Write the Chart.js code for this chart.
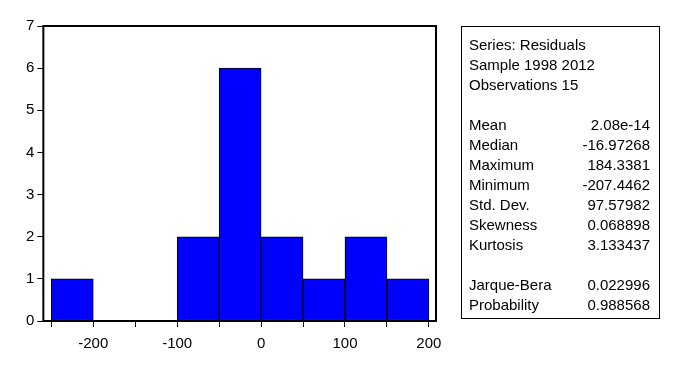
<!DOCTYPE html>
<html>
<head>
<meta charset="utf-8">
<script src="https://cdn.jsdelivr.net/npm/chart.js@4/dist/chart.umd.min.js"></script>
<style>
  body { margin: 0; background: #fff; font-family: "Liberation Sans", Arial, sans-serif; }
  #wrap { position: relative; width: 677px; height: 376px; }
  #hist { position: absolute; left: 0; top: 0; }
  #stats {
    position: absolute; left: 461px; top: 26px; width: 199px; height: 293px;
    border: 1px solid #000; padding: 8px 9px 0 7px; box-sizing: border-box;
    font-size: 15px; color: #000;
  }
  .row { height: 20px; line-height: 20px; display: flex; justify-content: space-between; white-space: nowrap; }
</style>
</head>
<body>
<div id="wrap">
  <canvas id="hist" width="677" height="376"></canvas>
  <div id="stats"></div>
</div>
<script>
// Histograma dos residuos: classes de largura 50
const binCenters = [-225, -175, -125, -75, -25, 25, 75, 125, 175];
const binCounts  = [1, 0, 0, 2, 6, 2, 1, 2, 1];
const xTickValues = [-250, -200, -150, -100, -50, 0, 50, 100, 150, 200];

// Quadro de estatisticas (linha vazia = '')
const headerLines = ['Series: Residuals', 'Sample 1998 2012', 'Observations 15'];
const statLabels  = ['Mean', 'Median', 'Maximum', 'Minimum', 'Std. Dev.', 'Skewness', 'Kurtosis', '', 'Jarque-Bera', 'Probability'];
const statValues  = ['2.08e-14', '-16.97268', '184.3381', '-207.4462', '97.57982', '0.068898', '3.133437', '', '0.022996', '0.988568'];

const FONT = { family: '"Liberation Sans", Arial, sans-serif', size: 15 };

// moldura preta em volta da area do grafico
const frame = {
  id: 'frame',
  afterDraw(chart) {
    const { ctx, chartArea: a } = chart;
    ctx.save();
    ctx.strokeStyle = '#000';
    ctx.lineWidth = 2;
    ctx.strokeRect(a.left, a.top, a.right - a.left, a.bottom - a.top);
    ctx.restore();
  }
};

new Chart(document.getElementById('hist'), {
  type: 'bar',
  data: {
    datasets: [{
      data: binCenters.map((x, i) => ({ x, y: binCounts[i] })),
      backgroundColor: '#0000ff',
      borderColor: '#000',
      borderWidth: 1,
      borderSkipped: false,
      barPercentage: 1,
      categoryPercentage: 1
    }]
  },
  options: {
    responsive: false,
    animation: false,
    layout: { padding: { left: 23, top: 26, right: 241, bottom: 15 } },
    plugins: { legend: { display: false }, tooltip: { enabled: false } },
    scales: {
      x: {
        type: 'linear', min: -259.5, max: 208.5, offset: false,
        afterBuildTicks: s => { s.ticks = xTickValues.map(v => ({ value: v })); },
        ticks: {
          color: '#000', font: FONT, padding: 8, maxRotation: 0, autoSkip: false,
          callback: v => (v % 100 === 0 ? String(v) : '')
        },
        grid: { display: true, offset: false, drawOnChartArea: false, drawTicks: true, tickLength: 6, color: '#000', lineWidth: 1 },
        border: { display: false }
      },
      y: {
        min: 0, max: 7,
        ticks: { stepSize: 1, color: '#000', font: FONT, padding: 3 },
        grid: { display: true, drawOnChartArea: false, drawTicks: true, tickLength: 6, color: '#000', lineWidth: 1 },
        border: { display: false }
      }
    }
  },
  plugins: [frame]
});

// monta o quadro de estatisticas
const box = document.getElementById('stats');
const rows = headerLines.map(t => [t, '']).concat([['', '']], statLabels.map((l, i) => [l, statValues[i]]));
box.innerHTML = rows.map(([l, v]) => `<div class="row"><span>${l}</span><span>${v}</span></div>`).join('');
</script>
</body>
</html>
